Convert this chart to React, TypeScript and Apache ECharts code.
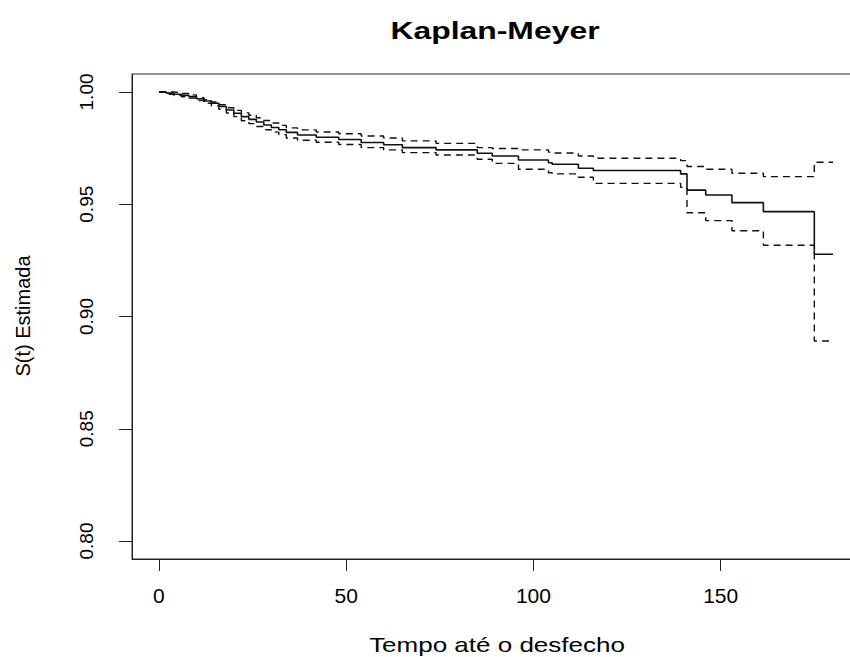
import React, { useEffect, useRef } from "react";
import * as echarts from "echarts";

// Event times (step start points) shared by the estimate and its confidence bounds
const TIMES = [0, 2, 4, 6, 8, 10, 12, 14, 16, 18, 20, 22, 24, 26, 28, 30, 32, 34, 37, 42, 48, 54, 60, 65, 74, 85, 89, 96, 104, 105, 112, 116, 139.3, 141, 146, 153, 161.4, 175, 180];

const SURV = [1.0, 0.9995, 0.999, 0.9985, 0.998, 0.997, 0.996, 0.995, 0.9935, 0.992, 0.9905, 0.989, 0.9878, 0.9866, 0.9853, 0.9842, 0.9832, 0.982, 0.9808, 0.9798, 0.9788, 0.9775, 0.9765, 0.9752, 0.9742, 0.9727, 0.9715, 0.9697, 0.9685, 0.9678, 0.966, 0.965, 0.9635, 0.9563, 0.9541, 0.9507, 0.9467, 0.9277, 0.9277];

const UPPER = [1.0, 1.0, 0.9997, 0.9993, 0.9987, 0.9975, 0.9966, 0.9955, 0.9943, 0.993, 0.9918, 0.9907, 0.9896, 0.9885, 0.9873, 0.9862, 0.9851, 0.984, 0.9831, 0.9822, 0.9814, 0.9804, 0.9795, 0.9782, 0.9771, 0.9752, 0.9748, 0.9742, 0.9732, 0.9728, 0.9715, 0.9705, 0.9694, 0.9668, 0.9656, 0.9638, 0.9623, 0.9687, 0.9687];

const LOWER = [1.0, 0.999, 0.9984, 0.9979, 0.9973, 0.9962, 0.995, 0.9938, 0.9923, 0.9906, 0.989, 0.9872, 0.9859, 0.9846, 0.9832, 0.9821, 0.981, 0.9795, 0.9785, 0.9776, 0.9766, 0.9752, 0.9742, 0.973, 0.9719, 0.97, 0.9682, 0.9656, 0.964, 0.9635, 0.962, 0.9593, 0.9575, 0.9462, 0.9427, 0.9382, 0.9317, 0.8891, 0.8891];

const X_TICKS = [0, 50, 100, 150];
const Y_TICKS = [0.8, 0.85, 0.9, 0.95, 1.0];

const TITLE = "Kaplan-Meyer";
const X_NAME = "Tempo até o desfecho";
const Y_NAME = "S(t) Estimada";

const FONT = '"Liberation Sans", Arial, sans-serif';

export default function App() {
  const ref = useRef<HTMLDivElement>(null);

  useEffect(() => {
    if (!ref.current) return;
    const chart = echarts.init(ref.current, null, { renderer: "svg" });
    const toPairs = (vals: number[]) => TIMES.map((t, i) => [t, vals[i]]);

    const option: any = {
      animation: false,
      backgroundColor: "#ffffff",
      grid: {
        left: 132,
        top: 74,
        width: 728,
        height: 485,
        show: true,
        borderColor: "#222",
        borderWidth: 1,
        backgroundColor: "transparent",
      },
      xAxis: {
        type: "value",
        min: -7.2,
        max: 187.2,
        axisLine: { show: true, onZero: false, lineStyle: { color: "#222", width: 1 } },
        axisTick: { show: true, customValues: X_TICKS, length: 12, inside: false, lineStyle: { color: "#222", width: 1 } },
        axisLabel: {
          show: true,
          customValues: X_TICKS,
          margin: 26,
          fontSize: 21,
          fontFamily: FONT,
          color: "#000",
          formatter: (v: number) => String(v),
        },
        splitLine: { show: false },
      },
      yAxis: {
        type: "value",
        min: 0.792,
        max: 1.008,
        axisLine: { show: true, onZero: false, lineStyle: { color: "#222", width: 1 } },
        axisTick: { show: true, customValues: Y_TICKS, length: 13, inside: false, lineStyle: { color: "#222", width: 1 } },
        axisLabel: {
          show: true,
          customValues: Y_TICKS,
          rotate: 90,
          margin: 36,
          fontSize: 19,
          fontFamily: FONT,
          color: "#000",
          formatter: (v: number) => v.toFixed(2),
        },
        splitLine: { show: false },
      },
      graphic: [
        {
          type: "text",
          x: 495,
          y: 31,
          scaleX: 1.33,
          style: {
            text: TITLE,
            fontSize: 24,
            fontWeight: "bold",
            fontFamily: FONT,
            fill: "#000",
            align: "center",
            verticalAlign: "middle",
            textAlign: "center",
            textVerticalAlign: "middle",
          },
        },
        {
          type: "text",
          x: 497,
          y: 645,
          scaleX: 1.3,
          style: {
            text: X_NAME,
            fontSize: 20,
            fontFamily: FONT,
            fill: "#000",
            align: "center",
            verticalAlign: "middle",
            textAlign: "center",
            textVerticalAlign: "middle",
          },
        },
        {
          type: "text",
          x: 23,
          y: 316,
          rotation: Math.PI / 2,
          style: {
            text: Y_NAME,
            fontSize: 20,
            fontFamily: FONT,
            fill: "#000",
            align: "center",
            verticalAlign: "middle",
            textAlign: "center",
            textVerticalAlign: "middle",
          },
        },
      ],
      series: [
        {
          type: "line",
          name: "S(t)",
          step: "end",
          symbol: "none",
          data: toPairs(SURV),
          lineStyle: { color: "#111", width: 1.6, type: "solid" },
          z: 3,
        },
        {
          type: "line",
          name: "upper",
          step: "end",
          symbol: "none",
          data: toPairs(UPPER),
          lineStyle: { color: "#111", width: 1.4, type: [7, 5] },
          z: 2,
        },
        {
          type: "line",
          name: "lower",
          step: "end",
          symbol: "none",
          data: toPairs(LOWER),
          lineStyle: { color: "#111", width: 1.4, type: [7, 5] },
          z: 2,
        },
      ],
    };

    chart.setOption(option);
    return () => chart.dispose();
  }, []);

  return (
    <div
      ref={ref}
      style={{ position: "fixed", left: 0, top: 0, width: 870, height: 657, background: "#fff" }}
    />
  );
}
